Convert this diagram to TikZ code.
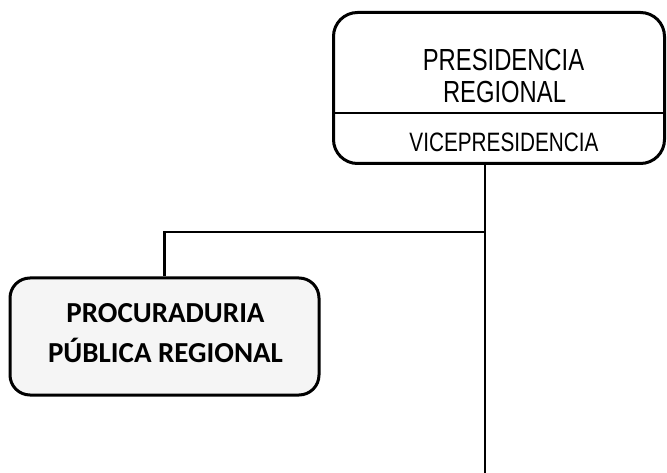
\documentclass[tikz,border=0pt]{standalone}
\usepackage{fontspec}
\setmainfont{Liberation Sans}
\newfontfamily\narrow[FakeStretch=0.78]{Liberation Sans}
\newfontfamily\calib{Carlito}
\begin{document}
\begin{tikzpicture}[x=1pt,y=-1pt,
  box/.style={draw=black,line width=3pt,rounded corners=24pt,inner sep=0pt},
  conn/.style={draw=black,line width=2.6pt},
  lbl/.style={inner sep=0pt,anchor=base}]
\useasboundingbox[fill=white] (0,0) rectangle (667,473);
\node[box,minimum width=331pt,minimum height=151pt] (pres) at (499,88) {};
\draw[line width=2pt] (pres.west |- 0,113.5) coordinate (dl) -- (pres.east |- 0,113.5) coordinate (dr);
\node[lbl,font=\narrow\fontsize{30.5}{33}\selectfont] (t1) at (503.5,71) {PRESIDENCIA};
\node[lbl,font=\narrow\fontsize{30.5}{33}\selectfont] (t1b) at (504.5,103) {REGIONAL};
\node[lbl,font=\narrow\fontsize{26.6}{30}\selectfont] (t2) at (504,152) {VICEPRESIDENCIA};
\node[box,fill=black!4,rounded corners=20pt,minimum width=309pt,minimum height=117pt] (proc) at (164.5,336.5) {};
\node[lbl,font=\calib\bfseries\fontsize{29}{39}\selectfont] (t3) at (165.5,323) {PROCURADURIA};
\node[lbl,font=\calib\bfseries\fontsize{29}{39}\selectfont] (t3b) at (165.5,362) {PÚBLICA REGIONAL};
\coordinate (j) at (485,232);
\coordinate (bot) at (485,473);
\draw[conn] (pres.south -| j) -- (bot);
\draw[conn] (j) -| (proc.north);
\end{tikzpicture}
\end{document}
